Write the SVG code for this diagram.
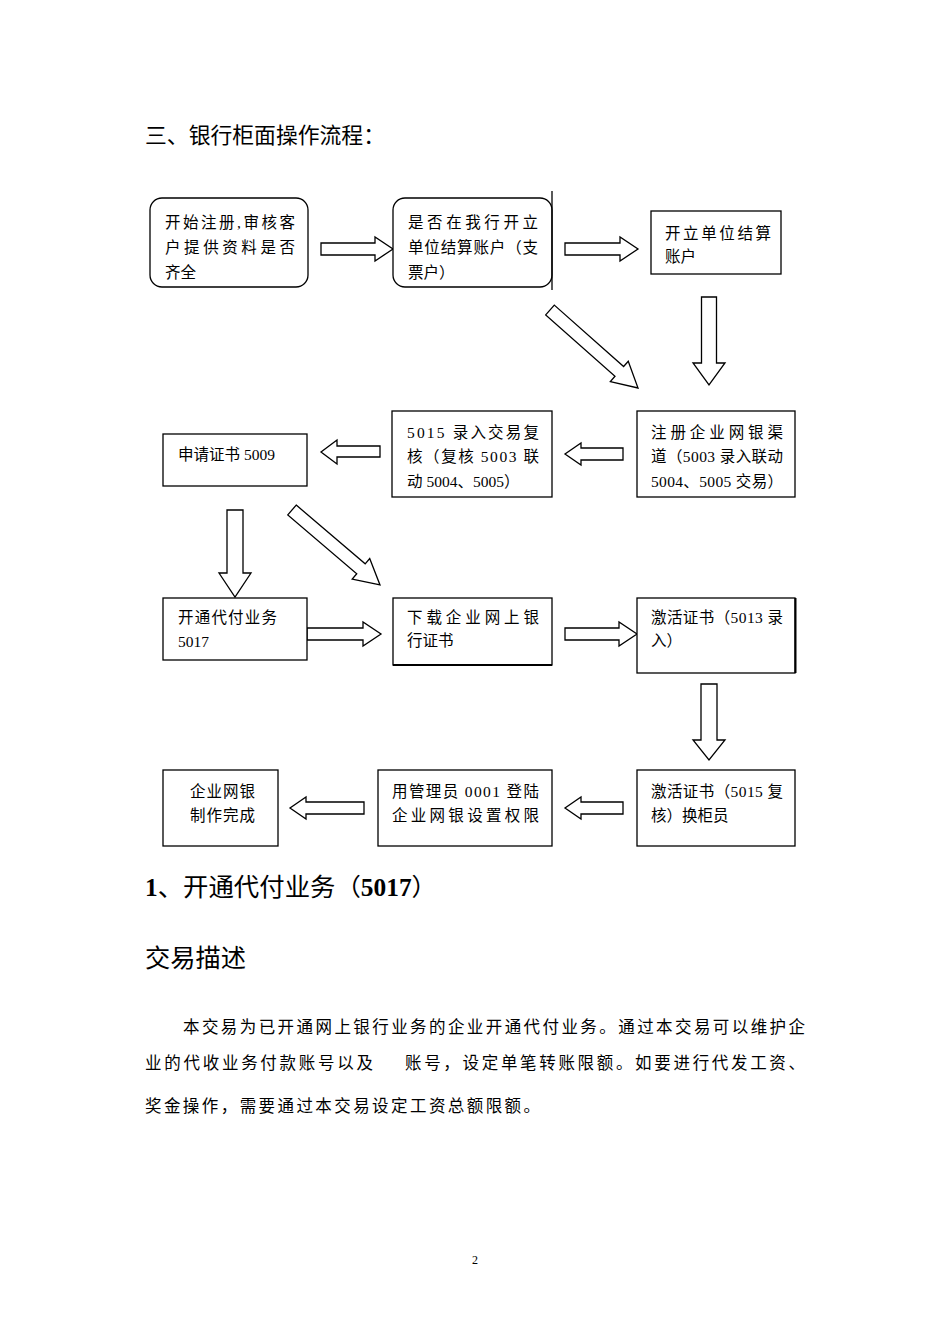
<svg xmlns="http://www.w3.org/2000/svg" width="950" height="1344" viewBox="0 0 950 1344">
<style>
.bx{fill:#fff;stroke:#000;stroke-width:1.3}
.ar{fill:#fff;stroke:#000;stroke-width:1.3;stroke-linejoin:miter}
.t{font-family:"Liberation Serif","Noto Sans CJK SC",serif;font-size:15.5px;fill:#000}
.h{font-family:"Liberation Serif","Noto Sans CJK SC",serif;fill:#000}
.p{font-family:"Liberation Serif","Noto Sans CJK SC",serif;font-size:16.5px;fill:#000}
</style>
<rect width="950" height="1344" fill="#fff"/>
<text class="h" x="145" y="143" font-size="21.5" textLength="240" lengthAdjust="spacingAndGlyphs">三、银行柜面操作流程：</text>

<g id="connectors">
<polygon class="ar" points="321,243 375,243 375,237 393,249 375,261 375,255 321,255"/>
<polygon class="ar" points="565,243 620,243 620,237 638,249 620,261 620,255 565,255"/>
<polygon class="ar" points="701.5,297 716.5,297 716.5,363 725,363 709,385 693,363 701.5,363"/>
<polygon class="ar" transform="translate(550,310) rotate(41.55)" points="0,-6.5 92.6,-6.5 92.6,-13.5 117.6,0 92.6,13.5 92.6,6.5 0,6.5"/>
<polygon class="ar" points="623,448 581,448 581,443 565,454 581,465 581,460 623,460"/>
<polygon class="ar" points="380,446 337,446 337,440 321,452 337,464 337,457 380,457"/>
<polygon class="ar" points="227,510 243,510 243,573 251,573 235,597 219,573 227,573"/>
<polygon class="ar" transform="translate(292,510) rotate(40.44)" points="0,-6.5 90.6,-6.5 90.6,-13.5 115.6,0 90.6,13.5 90.6,6.5 0,6.5"/>
<polygon class="ar" points="307,628 363,628 363,622 381,634 363,646 363,640 307,640"/>
<polygon class="ar" points="565,628 619,628 619,622 637,634 619,646 619,640 565,640"/>
<polygon class="ar" points="701,684 717,684 717,740 725,740 709,760 693,740 701,740"/>
<polygon class="ar" points="623,802 581,802 581,797 565,808 581,819 581,814 623,814"/>
<polygon class="ar" points="364,802 306,802 306,797 290,808 306,819 306,814 364,814"/>
</g>

<g id="n1">
<rect class="bx" x="150" y="198" width="158" height="89" rx="12"/>
<text class="t" x="165" y="228" textLength="130" lengthAdjust="spacing">开始注册,审核客</text>
<text class="t" x="165" y="253" textLength="130" lengthAdjust="spacing">户提供资料是否</text>
<text class="t" x="165" y="278">齐全</text>
</g>
<g id="n2">
<rect class="bx" x="393" y="198" width="159" height="89" rx="12"/>
<line x1="552" y1="191" x2="552" y2="290" stroke="#000" stroke-width="1.3"/>
<text class="t" x="408" y="228" textLength="130" lengthAdjust="spacing">是否在我行开立</text>
<text class="t" x="408" y="253" textLength="130" lengthAdjust="spacing">单位结算账户（支</text>
<text class="t" x="408" y="278">票户）</text>
</g>
<g id="n3">
<rect class="bx" x="651" y="211" width="130" height="63"/>
<text class="t" x="665" y="239" textLength="106" lengthAdjust="spacing">开立单位结算</text>
<text class="t" x="665" y="262">账户</text>
</g>
<g id="n4">
<rect class="bx" x="637" y="411" width="158" height="86"/>
<text class="t" x="651" y="438" textLength="132" lengthAdjust="spacing">注册企业网银渠</text>
<text class="t" x="651" y="462" textLength="132" lengthAdjust="spacing">道（5003 录入联动</text>
<text class="t" x="651" y="487" textLength="132" lengthAdjust="spacing">5004、5005 交易）</text>
</g>
<g id="n5">
<rect class="bx" x="392" y="411" width="160" height="86"/>
<text class="t" x="407" y="438" textLength="132" lengthAdjust="spacing">5015 录入交易复</text>
<text class="t" x="407" y="462" textLength="132" lengthAdjust="spacing">核（复核 5003 联</text>
<text class="t" x="407" y="487">动 5004、5005）</text>
</g>
<g id="n6">
<rect class="bx" x="163" y="434" width="144" height="52"/>
<text class="t" x="178" y="460">申请证书 5009</text>
</g>
<g id="n7">
<rect class="bx" x="163" y="598" width="144" height="62"/>
<text class="t" x="178" y="623" textLength="99" lengthAdjust="spacing">开通代付业务</text>
<text class="t" x="178" y="647">5017</text>
</g>
<g id="n8">
<rect class="bx" x="393" y="598" width="159" height="67"/>
<line x1="393" y1="665" x2="552" y2="665" stroke="#000" stroke-width="2"/>
<text class="t" x="407" y="623" textLength="132" lengthAdjust="spacing">下载企业网上银</text>
<text class="t" x="407" y="646">行证书</text>
</g>
<g id="n9">
<rect class="bx" x="637" y="598" width="158" height="75"/>
<line x1="795.5" y1="598" x2="795.5" y2="673" stroke="#000" stroke-width="2"/>
<text class="t" x="651" y="623" textLength="132" lengthAdjust="spacing">激活证书（5013 录</text>
<text class="t" x="651" y="646">入）</text>
</g>
<g id="n10">
<rect class="bx" x="637" y="770" width="158" height="76"/>
<text class="t" x="651" y="797" textLength="132" lengthAdjust="spacing">激活证书（5015 复</text>
<text class="t" x="651" y="821">核）换柜员</text>
</g>
<g id="n11">
<rect class="bx" x="378" y="770" width="174" height="76"/>
<text class="t" x="392" y="797" textLength="147" lengthAdjust="spacing">用管理员 0001 登陆</text>
<text class="t" x="392" y="821" textLength="147" lengthAdjust="spacing">企业网银设置权限</text>
</g>
<g id="n12">
<rect class="bx" x="163" y="770" width="115" height="76"/>
<text class="t" x="190" y="797" textLength="65" lengthAdjust="spacing">企业网银</text>
<text class="t" x="190" y="821" textLength="65" lengthAdjust="spacing">制作完成</text>
</g>

<text class="h" x="145" y="896" font-size="24.5" textLength="292" lengthAdjust="spacingAndGlyphs"><tspan font-weight="bold">1</tspan>、开通代付业务（<tspan font-weight="bold">5017</tspan>）</text>
<text class="h" x="145" y="967" font-size="25" textLength="101" lengthAdjust="spacingAndGlyphs">交易描述</text>
<text class="p" x="183" y="1033" textLength="622" lengthAdjust="spacing">本交易为已开通网上银行业务的企业开通代付业务。通过本交易可以维护企</text>
<text class="p" y="1069"><tspan x="145" textLength="228" lengthAdjust="spacing">业的代收业务付款账号以及</tspan><tspan x="405" textLength="400" lengthAdjust="spacing">账号，设定单笔转账限额。如要进行代发工资、</tspan></text>
<text class="p" x="145" y="1112" textLength="395" lengthAdjust="spacing">奖金操作，需要通过本交易设定工资总额限额。</text>
<text class="h" x="475" y="1264" font-size="12" text-anchor="middle">2</text>
</svg>
